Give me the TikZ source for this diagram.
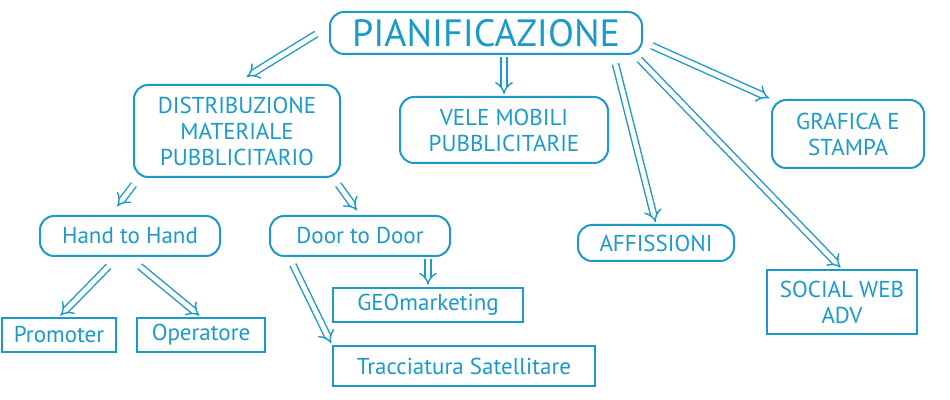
\documentclass[tikz,border=0pt]{standalone}
\usepackage{fontspec}
\setmainfont{PT Sans}
\usetikzlibrary{arrows.meta}
\definecolor{azz}{HTML}{1A9AC8}
\begin{document}
\begin{tikzpicture}[x=0.5pt, y=-0.5pt]
        \tikzset{topbox/.style = {draw=azz, rounded corners=7pt, line width=1pt, text=azz, align=center, font=\fontsize{11.5}{13}\selectfont},
                 flatbox/.style = {draw=azz, line width=1pt, text=azz, align=center, font=\fontsize{11.5}{13}\selectfont},
                 dblarrow/.style = {draw=azz, double=white, line width=0.7pt, double distance=2.4pt, -{Implies[length=6pt, width=9pt]}, shorten >=1pt, shorten <=1pt}}
        \useasboundingbox (0,0) rectangle (950,400);

        \node (plan) [topbox, minimum width=156pt, minimum height=21pt, font=\fontsize{19}{21}\selectfont] at (486,33) {PIANIFICAZIONE};
        \node (distr) [topbox, minimum width=103pt, minimum height=46pt] at (237,131) {DISTRIBUZIONE\\MATERIALE\\PUBBLICITARIO};
        \node (vele) [topbox, minimum width=104pt, minimum height=33pt] at (504,130) {VELE MOBILI\\PUBBLICITARIE};
        \node (grafica) [topbox, minimum width=76pt, minimum height=34pt] at (848,134) {GRAFICA E\\STAMPA};
        \node (hand) [topbox, minimum width=90pt, minimum height=20pt] at (130,236) {Hand to Hand};
        \node (door) [topbox, minimum width=90pt, minimum height=20pt] at (360,236) {Door to Door};
        \node (affi) [topbox, minimum width=78pt, minimum height=18pt] at (656,243) {AFFISSIONI};
        \node (social) [flatbox, minimum width=75pt, minimum height=32pt] at (842,302) {SOCIAL WEB\\ADV};
        \node (geo) [flatbox, minimum width=95pt, minimum height=17pt] at (428,305) {GEOmarketing};
        \node (promo) [flatbox, minimum width=57pt, minimum height=17pt] at (59,335) {Promoter};
        \node (oper) [flatbox, minimum width=64pt, minimum height=17pt] at (201,335) {Operatore};
        \node (tracc) [flatbox, minimum width=131pt, minimum height=20pt] at (464,366) {Tracciatura Satellitare};

        \coordinate (p1) at (318,33);  \coordinate (p2) at (615,62);
        \coordinate (p3) at (638,58);  \coordinate (p4) at (650,45);
        \coordinate (h1) at (110,265); \coordinate (h2) at (138,265);
        \coordinate (d1) at (292,263); \coordinate (t1) at (245,78);
        \coordinate (s1) at (135,183); \coordinate (s2) at (337,183);
        \coordinate (t2) at (116,208); \coordinate (t3) at (358,212);
        \draw[dblarrow] (p1) -- (t1);
        \draw[dblarrow] (plan.south -| vele.north) -- (vele.north);
        \draw[dblarrow] (p2) -- (affi.north);
        \draw[dblarrow] (p3) -- (social.north);
        \draw[dblarrow] (p4) -- (grafica.north west);
        \draw[dblarrow] (s1) -- (t2);
        \draw[dblarrow] (s2) -- (t3);
        \draw[dblarrow] (h1) -- (promo.north);
        \draw[dblarrow] (h2) -- (oper.north);
        \draw[dblarrow] (door.south -| geo.north) -- (geo.north);
        \draw[dblarrow] (d1) -- (tracc.north west);
\end{tikzpicture}
\end{document}
